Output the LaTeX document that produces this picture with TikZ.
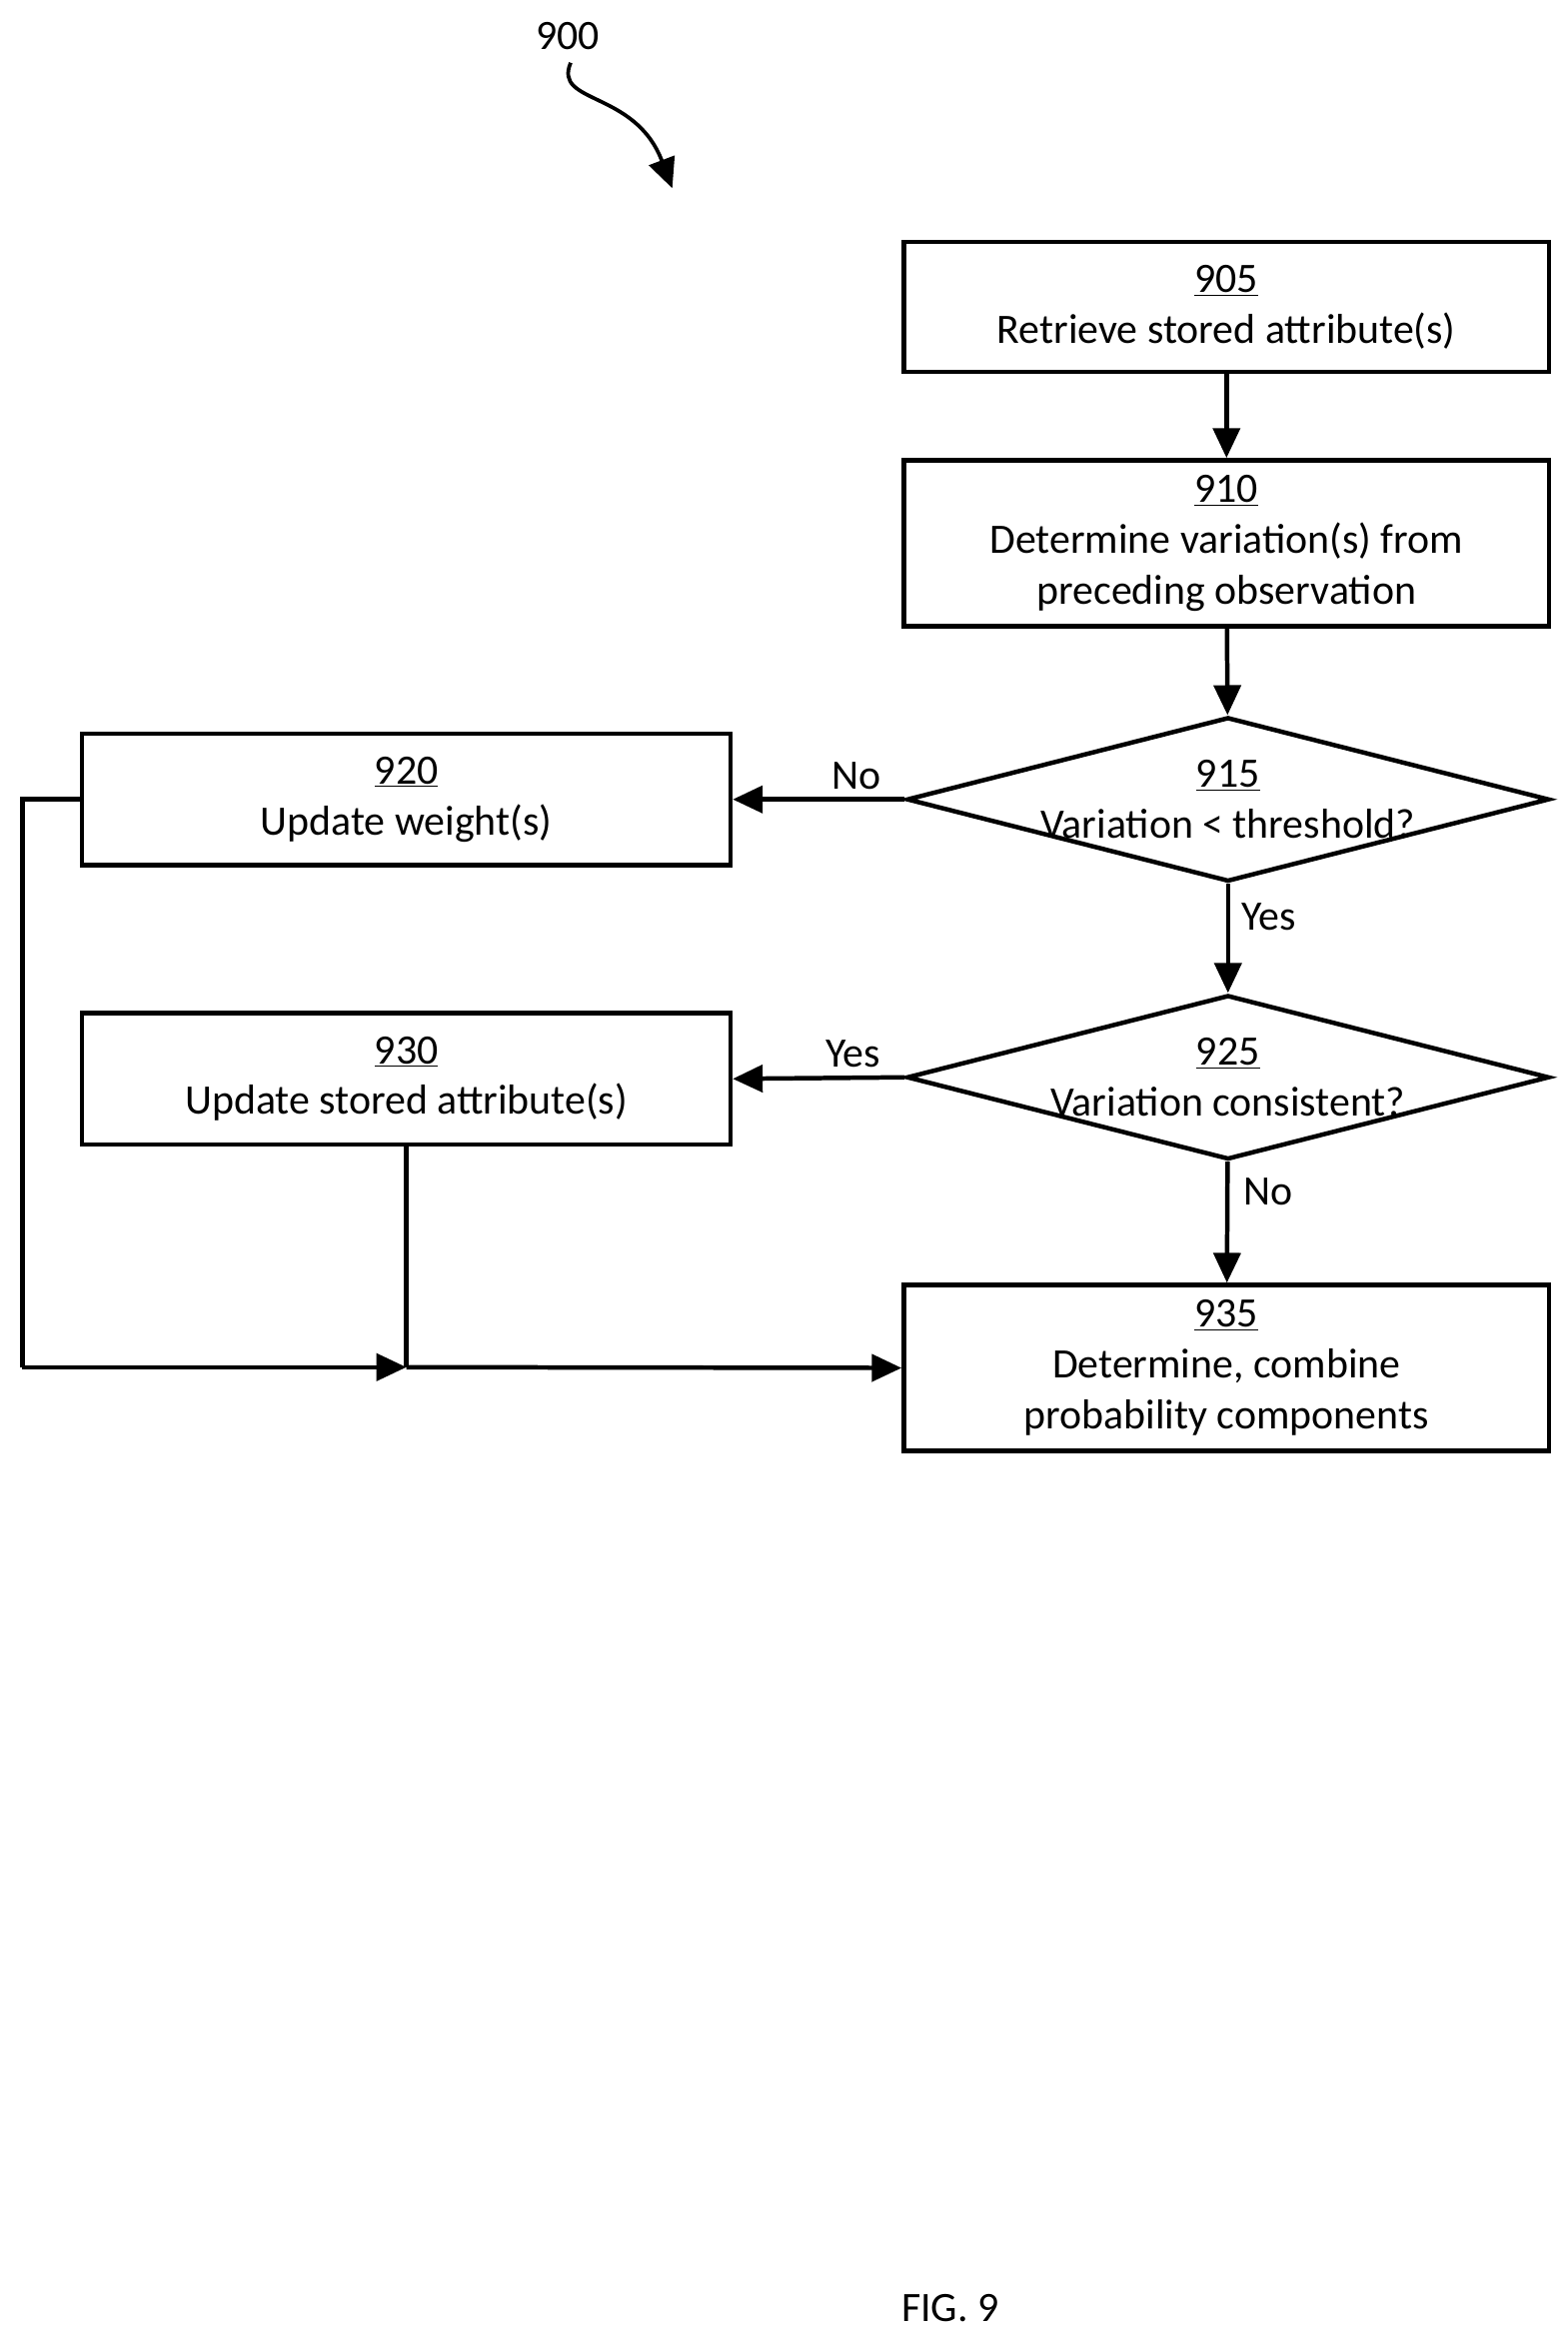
\documentclass[tikz,border=0pt]{standalone}
\usepackage{fontspec}
\setmainfont{Carlito}
\usetikzlibrary{arrows.meta,shapes.geometric}
\begin{document}
\begin{tikzpicture}[x=1pt,y=1pt,
  box/.style={draw,line width=3pt,minimum width=432pt,align=center,inner sep=0pt,font=\fontsize{28}{34}\selectfont},
  dia/.style={draw,diamond,line width=3pt,minimum width=430pt,minimum height=110pt,inner sep=0pt},
  txt/.style={align=center,font=\fontsize{28}{34}\selectfont},
  ln/.style={line width=3pt},
  arr/.style={line width=3pt,-{Triangle[length=20pt,width=18pt]}}]
\useasboundingbox (0,0) rectangle (1049,1560);
\node[txt] (l900) at (380,1536) {900};
\coordinate (s0) at (382,1518);
\coordinate (s1) at (450,1434);
\draw[arr,line width=2.5pt] (s0) .. controls (370,1490) and (425,1500) .. (s1);
\node[box,minimum height=87pt] (b905) at (821,1354.5) {\underline{905}\\Retrieve stored attribute(s)};
\node[box,minimum height=111pt] (b910) at (821,1196.5) {\underline{910}\\Determine variation(s) from\\preceding observation};
\node[dia] (d915) at (822,1025) {};
\node[txt] (t915) at (d915) {\underline{915}\\Variation < threshold?};
\node[box,minimum width=434pt,minimum height=88pt] (b920) at (272,1025) {\underline{920}\\Update weight(s)};
\node[dia] (d925) at (822,839) {};
\node[txt] (t925) at (d925) {\underline{925}\\Variation consistent?};
\node[box,minimum width=434pt,minimum height=88pt] (b930) at (272,838) {\underline{930}\\Update stored attribute(s)};
\node[box,minimum height=111pt] (b935) at (821,644.5) {\underline{935}\\Determine, combine\\probability components};
\coordinate (j) at (272,645);
\coordinate (c1) at (15,1025);
\coordinate (c2) at (15,645);
\draw[arr] (b905) -- (b910);
\draw[arr] (b910) -- (d915);
\draw[arr] (d915.west) -- node[txt,above,pos=0.28,yshift=2pt]{No} (b920.east);
\draw[arr] (d915) -- node[txt,right,pos=0.3,xshift=4pt]{Yes} (d925);
\draw[arr] (d925.west) -- node[txt,above,pos=0.3,yshift=2pt]{Yes} (b930.east);
\draw[arr] (d925) -- node[txt,right,pos=0.25,xshift=6pt]{No} (b935);
\draw[ln] (b920.west) -- (c1) -- (c2);
\draw[arr] (c2) -- (j);
\draw[ln] (b930.south) -- (j);
\draw[arr] (j) -- (b935.west);
\node[txt] (fig) at (636,15) {FIG. 9};
\end{tikzpicture}
\end{document}
